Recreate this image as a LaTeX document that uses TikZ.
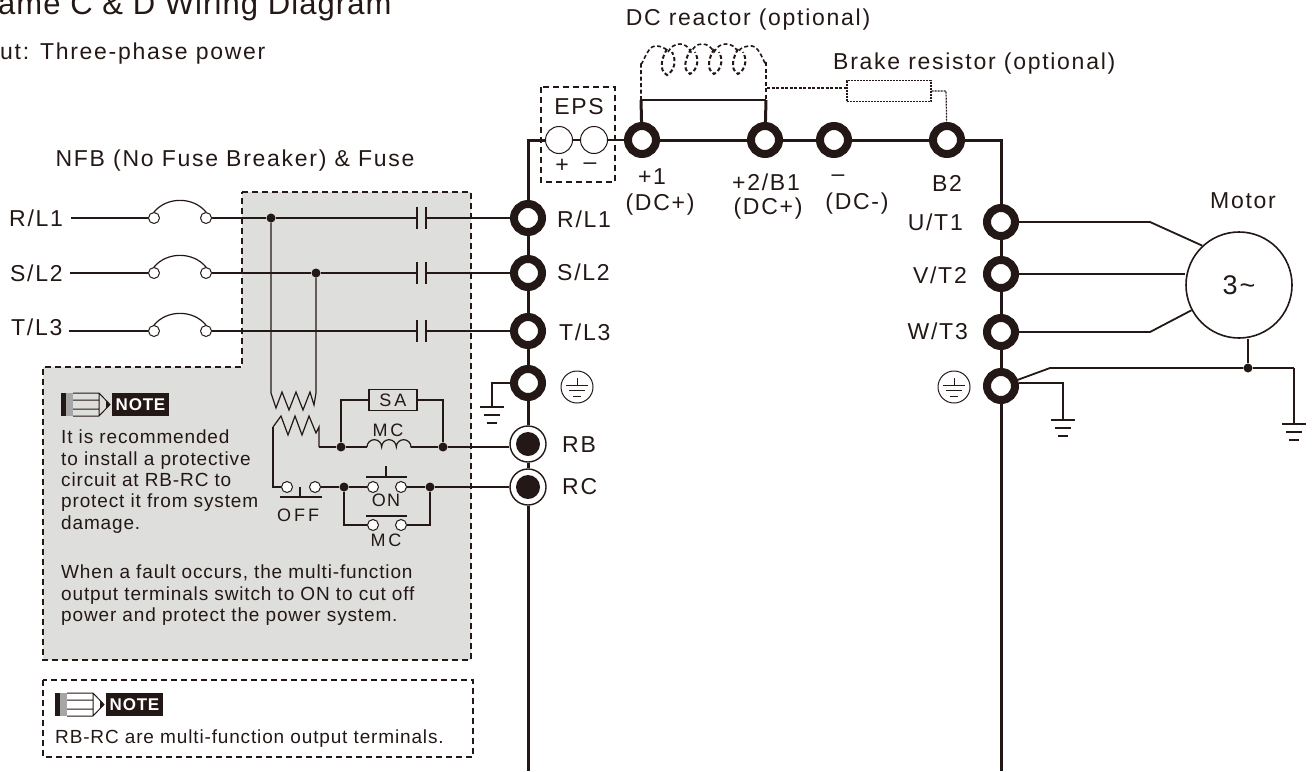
\documentclass[tikz,border=0pt]{standalone}
\usepackage{fontspec}
\setmainfont[LetterSpace=7.5]{Liberation Sans}
\newfontfamily\notefont[LetterSpace=4.5]{Liberation Sans}
\newfontfamily\titlefont[LetterSpace=3.5]{Liberation Sans}
\usetikzlibrary{positioning}
\definecolor{ink}{HTML}{231815}
\definecolor{panel}{HTML}{DEDEDD}
\tikzset{
  wire/.style={draw=ink,line width=1.2pt},
  bus/.style={draw=ink,line width=3pt},
  dashbox/.style={draw=ink,line width=1.6pt,dash pattern=on 6pt off 4pt},
  term/.style={circle,draw=ink,fill=white,line width=8pt,minimum size=28pt,inner sep=0pt},
  ringterm/.style={circle,draw=ink,fill=white,line width=1.4pt,minimum size=36pt,inner sep=0pt},
  pin/.style={circle,draw=ink,fill=white,line width=1pt,minimum size=11pt,inner sep=0pt},
  dot/.style={circle,fill=ink,minimum size=9pt,inner sep=0pt},
  lab/.style={text=ink,font=\fontsize{23}{23}\selectfont,inner sep=0pt},
  notetext/.style={text=ink,font=\notefont\fontsize{19}{21.3}\selectfont,align=left,anchor=north west,inner sep=0pt},
  small/.style={text=ink,font=\fontsize{18}{18}\selectfont,inner sep=0pt},
  pics/gnd/.style={code={
    \draw[ink,line width=1.2pt] (-12,0) -- (12,0) (-8,8) -- (8,8) (-5,16) -- (5,16);
  }},
  pics/earth/.style={code={
    \draw[ink,line width=1pt] (0,0) circle (16);
    \draw[ink,line width=1pt] (0,-9) -- (0,-2) (-11,-2) -- (11,-2) (-8,3) -- (8,3) (-4,9) -- (4,9);
  }},
  pics/noteicon/.style={code={
    \fill[ink] (0,0) rectangle (5,23);
    \fill[gray!70] (5,0) rectangle (12,23);
    \draw[ink,line width=1pt] (12,0) -- (38,0) -- (49,11.5) -- (38,23) -- (12,23)
      (12,7) -- (38,7) (12,16) -- (38,16) (38,0) -- (38,23);
    \fill[ink] (45,7.5) -- (49,11.5) -- (45,15.5) -- cycle;
    \node[fill=ink,text=white,font=\notefont\bfseries\fontsize{17}{17}\selectfont,minimum width=57pt,minimum height=23pt,inner sep=0pt]
      at (79.5,11.5) {NOTE};
  }},
}
\begin{document}
\begin{tikzpicture}[x=1pt,y=-1pt]
  \useasboundingbox (0,0) rectangle (1316,771);
  % grey panel and note box
  \path[fill=panel] (242,192) -- (471,192) -- (471,660) -- (43,660) -- (43,367) -- (242,367) -- cycle;
  \draw[dashbox] (242,192) -- (471,192) -- (471,660) -- (43,660) -- (43,367) -- (242,367) -- cycle;
  \draw[dashbox] (43,680) rectangle (473,757);
  \draw[dashbox] (541,87) rectangle (615,182);

  % terminals
  \node[term] (rl1) at (528,218) {};
  \node[term] (sl2) at (528,273) {};
  \node[term] (tl3) at (528,331) {};
  \node[term] (gl) at (528,383) {};
  \node[ringterm] (rb) at (528,444) {};
  \node[ringterm] (rc) at (528,487) {};
  \node[term] (dc1) at (642,140) {};
  \node[term] (dc2) at (765,140) {};
  \node[term] (dcn) at (834,140) {};
  \node[term] (b2) at (947,140) {};
  \node[term] (ut1) at (1001,222) {};
  \node[term] (vt2) at (1001,274) {};
  \node[term] (wt3) at (1001,332) {};
  \node[term] (gr) at (1001,386) {};
  \node[circle,fill=ink,minimum size=24pt,inner sep=0pt] (rbc) at (528,444) {};
  \node[circle,fill=ink,minimum size=24pt,inner sep=0pt] (rcc) at (528,487) {};
  \node[circle,draw=ink,fill=white,line width=1pt,minimum size=27pt,inner sep=0pt] (eps1) at (559,140) {};
  \node[circle,draw=ink,fill=white,line width=1pt,minimum size=27pt,inner sep=0pt] (eps2) at (594,140) {};

  % DC bus
  \coordinate (bustl) at (528,140);
  \coordinate (bustr) at (1001,140);
  \coordinate (busbl) at (528,771);
  \coordinate (busbr) at (1001,771);
  \draw[bus] (rl1) -- (bustl) -- (eps1);
  \draw[wire] (eps1) -- (eps2);
  \draw[wire] (eps2) -- (dc1);
  \draw[bus] (dc1) -- (dc2);
  \draw[bus] (dc2) -- (dcn);
  \draw[bus] (dcn) -- (b2);
  \draw[bus] (b2) -- (bustr) -- (ut1);
  \draw[bus] (ut1) -- (vt2);
  \draw[bus] (vt2) -- (wt3);
  \draw[bus] (wt3) -- (gr);
  \draw[bus] (gr) -- (busbr);
  \draw[bus] (rl1) -- (sl2);
  \draw[bus] (sl2) -- (tl3);
  \draw[bus] (tl3) -- (gl);
  \draw[bus] (gl) -- (rb);
  \draw[bus] (rb) -- (rc);
  \draw[bus] (rc) -- (busbl);

  % DC reactor and brake resistor
  \coordinate (re1) at (641,100);
  \coordinate (re2) at (766,100);
  \draw[bus] (dc1) -- (re1);
  \draw[bus] (dc2) -- (re2);
  \draw[wire,line width=2pt] (re1) -- (re2);
  \draw[ink,line width=1.6pt,dash pattern=on 4pt off 2.5pt]
    (re1) -- (641,62) to[out=-90,in=180] (655,46) to[out=0,in=120] (668,52)
    to[out=60,in=180] (680,44) to[out=0,in=120] (691,52)
    to[out=60,in=180] (702,44) to[out=0,in=120] (714,52)
    to[out=60,in=180] (726,44) to[out=0,in=120] (738,52)
    to[out=60,in=180] (752,46) to[out=0,in=-90] (766,62);
  \draw[ink,line width=2.2pt,dash pattern=on 4pt off 2.5pt] (766,62) -- (re2);
  \draw[ink,line width=2pt,dash pattern=on 4pt off 2.5pt]
    (667,49) to[out=-120,in=150] (667,75) to[out=30,in=-60] (672,52)
    (691,49) to[out=-120,in=150] (690,74) to[out=30,in=-60] (695,52)
    (714,49) to[out=-120,in=150] (714,74) to[out=30,in=-60] (719,52)
    (738,49) to[out=-120,in=150] (738,74) to[out=30,in=-60] (743,52);
  \node[draw=ink,line width=1.2pt,dash pattern=on 2pt off 1pt,minimum width=84pt,minimum height=21pt,inner sep=0pt] (brake) at (889,91) {};
  \coordinate (brk0) at (767,88);
  \coordinate (brk1) at (946,91);
  \draw[ink,line width=1.2pt,dash pattern=on 3pt off 1.5pt] (brk0) -- (brk0 -| brake.west);
  \draw[ink,line width=1.2pt,dash pattern=on 2pt off 1pt] (brake.east |- brk1) -- (brk1) -- (b2);

  % input side
  \node[lab,right] (inr) at (9,218) {R/L1};
  \node[lab,right] (ins) at (10,273) {S/L2};
  \node[lab,right] (int) at (11,327) {T/L3};
  \node[pin] (nr1) at (154,218) {};
  \node[pin] (nr2) at (206,218) {};
  \node[pin] (ns1) at (154,273) {};
  \node[pin] (ns2) at (206,273) {};
  \node[pin] (nt1) at (154,331) {};
  \node[pin] (nt2) at (206,331) {};
  \node[dot] (dr) at (271,218) {};
  \node[dot] (ds) at (316,273) {};
  \coordinate (cr1) at (417,218);
  \coordinate (cr2) at (426,218);
  \coordinate (cs1) at (417,273);
  \coordinate (cs2) at (426,273);
  \coordinate (ct1) at (417,331);
  \coordinate (ct2) at (426,331);
  \draw[wire] ([xshift=8pt]inr.east |- nr1) -- (nr1);
  \draw[wire] ([xshift=7pt]ins.east |- ns1) -- (ns1);
  \draw[wire] ([xshift=6pt]int.east |- nt1) -- (nt1);
  \draw[wire] (nr1.north) to[out=50,in=130] (nr2.north);
  \draw[wire] (ns1.north) to[out=50,in=130] (ns2.north);
  \draw[wire] (nt1.north) to[out=50,in=130] (nt2.north);
  \draw[wire] (nr2) -- (dr);
  \draw[wire] (dr) -- (cr1);
  \draw[wire] (cr2) -- (rl1);
  \draw[wire] (ns2) -- (ds);
  \draw[wire] (ds) -- (cs1);
  \draw[wire] (cs2) -- (sl2);
  \draw[wire] (nt2) -- (ct1);
  \draw[wire] (ct2) -- (tl3);
  \draw[wire] ([yshift=-11pt]cr1) -- ([yshift=11pt]cr1);
  \draw[wire] ([yshift=-11pt]cr2) -- ([yshift=11pt]cr2);
  \draw[wire] ([yshift=-11pt]cs1) -- ([yshift=11pt]cs1);
  \draw[wire] ([yshift=-11pt]cs2) -- ([yshift=11pt]cs2);
  \draw[wire] ([yshift=-11pt]ct1) -- ([yshift=11pt]ct1);
  \draw[wire] ([yshift=-11pt]ct2) -- ([yshift=11pt]ct2);

  % transformer
  \coordinate (tr1) at (271,393);
  \coordinate (tr2) at (316,393);
  \coordinate (tr3) at (273,427);
  \coordinate (tr4) at (319,427);
  \draw[wire] (dr) -- (tr1) -- (276,408) -- (282,392) -- (289,410) -- (296,392) -- (303,410) -- (310,392) -- (314,405) -- (tr2) -- (ds);
  \draw[wire] (tr3) -- (281,416) -- (288,435) -- (295,416) -- (302,435) -- (309,416) -- (316,433) -- (tr4) -- (319,447);

  % relay circuit
  \node[dot] (d1) at (341,447) {};
  \node[dot] (d2) at (443,447) {};
  \node[dot] (d3) at (344,487) {};
  \node[dot] (d4) at (430,487) {};
  \node[draw=ink,line width=1.2pt,minimum width=48pt,minimum height=21pt,inner sep=0pt,small] (sa) at (393,400) {S\,A};
  \node[pin] (off1) at (287,487) {};
  \node[pin] (off2) at (315,487) {};
  \node[pin] (on1) at (373,487) {};
  \node[pin] (on2) at (401,487) {};
  \node[pin] (mc1) at (373,525) {};
  \node[pin] (mc2) at (401,525) {};
  \coordinate (coil1) at (367,447);
  \coordinate (coil2) at (411,447);
  \draw[wire] (319,447) -- (d1);
  \draw[wire] (d1) -- (coil1);
  \draw[wire] (coil1) arc[start angle=180,end angle=360,radius=7.33] arc[start angle=180,end angle=360,radius=7.33] arc[start angle=180,end angle=360,radius=7.33] -- (coil2);
  \draw[wire] (coil2) -- (d2);
  \draw[wire] (d2) -- (d2 -| rb.west);
  \draw[wire] (d1) |- (sa.west);
  \draw[wire] (d2) |- (sa.east);
  \draw[wire] (tr3) |- (off1);
  \draw[wire] (off2) -- (d3);
  \draw[wire] (d3) -- (on1);
  \draw[wire] (on2) -- (d4);
  \draw[wire] (d4) -- (rc);
  \draw[wire] (d3) |- (mc1);
  \draw[wire] (mc2) -| (d4);
  \draw[wire] (280,497) -- (322,497) (300,487) -- (300,497);
  \draw[wire] (366,477) -- (407,477) (386,466) -- (386,477);
  \draw[wire] (366,516) -- (407,516);
  \node[small] (offlab) at (298,515) {O\,F\,F};
  \node[small] (onlab) at (386,500) {ON};
  \node[small] (mclab) at (386,540) {M\,C};
  \node[small] (coillab) at (388,430) {M\,C};

  % ground at the left
  \coordinate (gl1) at (492,383);
  \coordinate (gl2) at (492,407);
  \draw[wire] (gl) -- (gl1) -- (gl2);
  \pic at (gl2) {gnd};
  \pic at (577,387) {earth};
  \pic at (954,387) {earth};

  % motor
  \node[circle,draw=ink,line width=1.6pt,fill=white,minimum size=106pt,inner sep=0pt,text=ink,font=\fontsize{27}{27}\selectfont] (motor) at (1239,285) {3\symbol{126}};
  \coordinate (mu) at (1150,222);
  \coordinate (mw) at (1150,332);
  \coordinate (gb) at (1050,368);
  \coordinate (ge) at (1294,368);
  \coordinate (gn1) at (1063,383);
  \coordinate (gn2) at (1063,420);
  \coordinate (gn3) at (1294,424);
  \node[dot] (md) at (1248,368) {};
  \draw[wire,line width=1.8pt] (ut1) -- (mu) -- (motor.133);
  \draw[wire,line width=1.8pt] (vt2) -- (vt2 -| motor.west);
  \draw[wire,line width=1.8pt] (wt3) -- (mw) -- (motor.208);
  \draw[wire,line width=1.8pt] (gr) -- (gb) -- (md);
  \draw[wire,line width=1.8pt] (md) -- (ge);
  \draw[wire] (ge) -- (gn3);
  \draw[wire,line width=1.6pt] (motor.south -| md) -- (md);
  \draw[wire] (gr.east |- gn1) -- (gn1) -- (gn2);
  \pic at (gn2) {gnd};
  \pic at (gn3) {gnd};

  % labels
  \node[lab,anchor=base west,font=\titlefont\fontsize{31}{31}\selectfont] (titlelab) at (-2,14) {ame C \& D Wiring Diagram};
  \node[lab,right] (inputlab) at (0,54) {ut: Three-phase power};
  \node[lab] (nfblab) at (235,161) {NFB (No Fuse Breaker) \& Fuse};
  \node[lab] (dclab) at (748,20) {DC reactor (optional)};
  \node[lab,right] (brakelab) at (833,64) {Brake resistor (optional)};
  \node[lab] (epslab) at (579,107) {EPS};
  \node[lab] (epsp) at (562,166) {+};
  \node[lab] (epsm) at (590,166) {--};
  \node[lab] (l1) at (652,177) {+1};
  \node[lab] (l1b) at (660,205) {(DC+)};
  \node[lab] (l2) at (766,182) {+2/B1};
  \node[lab] (l2b) at (768,209) {(DC+)};
  \node[lab] (l3) at (838,178) {--};
  \node[lab] (l3b) at (857,204) {(DC-)};
  \node[lab] (l4) at (947,183) {B2};
  \node[lab,right] (rlab) at (557,219) {R/L1};
  \node[lab,right] (slab) at (557,272) {S/L2};
  \node[lab,right] (tlab) at (559,332) {T/L3};
  \node[lab,right] (rblab) at (562,445) {RB};
  \node[lab,right] (rclab) at (562,487) {RC};
  \node[lab,left] (ulab) at (963,222) {U/T1};
  \node[lab,left] (vlab) at (967,275) {V/T2};
  \node[lab,left] (wlab) at (968,331) {W/T3};
  \node[lab] (motorlab) at (1243,201) {Motor};

  % notes
  \pic at (61,393) {noteicon};
  \pic at (55,693) {noteicon};
  \node[notetext] (note1) at (61,430) {It is recommended\\to install a protective\\circuit at RB-RC to\\protect it from system\\damage.};
  \node[notetext] (note2) at (61,565) {When a fault occurs, the multi-function\\output terminals switch to ON to cut off\\power and protect the power system.};
  \node[notetext] (note3) at (55,730) {RB-RC are multi-function output terminals.};
\end{tikzpicture}
\end{document}
